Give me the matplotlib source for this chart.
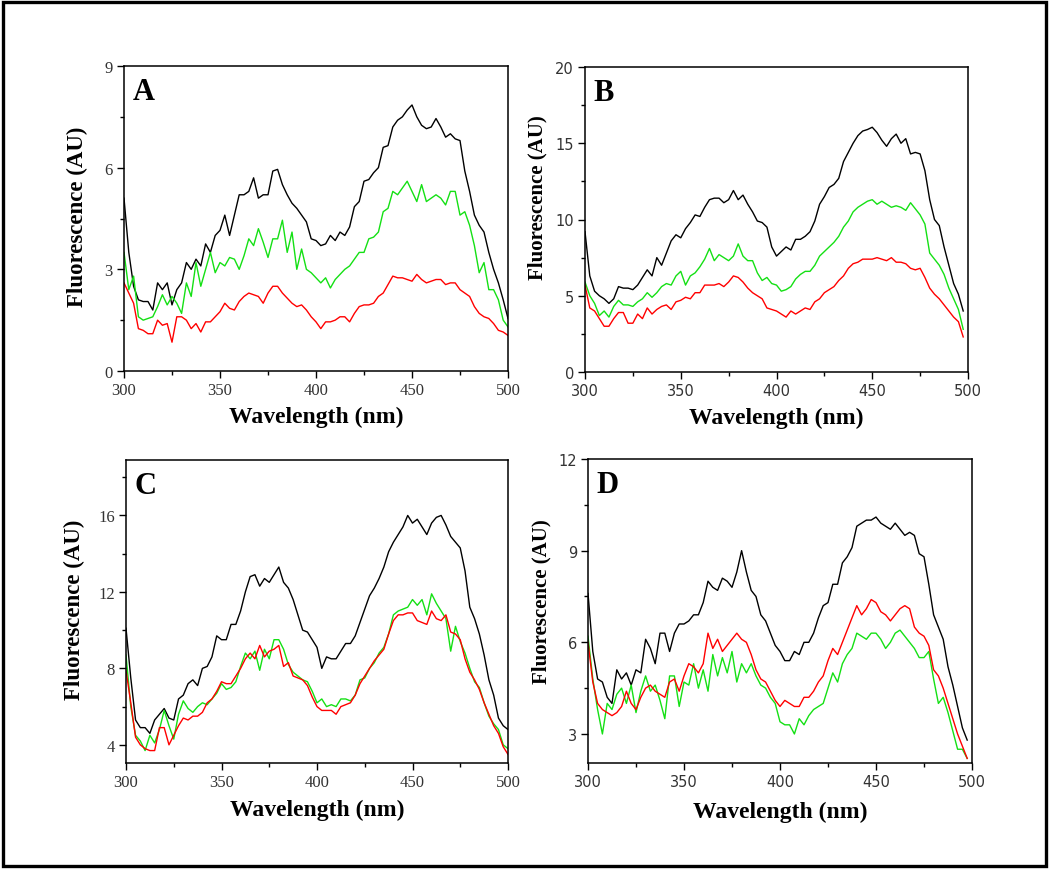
import numpy as np
import matplotlib.pyplot as plt
from matplotlib.patches import Rectangle
from matplotlib.ticker import MultipleLocator

# wavelength grids (nm)
wl_full = np.arange(300, 500.1, 2.5)     # panels A, C
wl_short = np.arange(300, 497.6, 2.5)    # panels B, D

# ---- panel A ----
a_black = [5.1, 3.5, 2.5, 2.1, 2.05, 2.05, 1.8, 2.6, 2.4, 2.6,
           1.95, 2.4, 2.6, 3.2, 3.0, 3.3, 3.1, 3.75, 3.5, 4.0,
           4.15, 4.6, 4.0, 4.6, 5.2, 5.2, 5.3, 5.7, 5.1, 5.2,
           5.2, 5.9, 5.95, 5.5, 5.2, 4.95, 4.8, 4.6, 4.4, 3.9,
           3.85, 3.7, 3.75, 4.0, 3.85, 4.1, 4.0, 4.25, 4.85, 5.0,
           5.6, 5.65, 5.85, 6.0, 6.6, 6.65, 7.2, 7.4, 7.5, 7.7,
           7.85, 7.5, 7.25, 7.15, 7.2, 7.45, 7.2, 6.9, 7.0, 6.85,
           6.8, 5.9, 5.3, 4.6, 4.3, 4.1, 3.5, 3.0, 2.6, 2.1,
           1.55]
a_green = [3.5, 2.4, 2.8, 1.6, 1.5, 1.55, 1.6, 1.9, 2.25, 1.95,
           2.2, 2.0, 1.7, 2.6, 2.2, 3.2, 2.5, 3.0, 3.5, 2.9,
           3.2, 3.1, 3.35, 3.3, 3.0, 3.4, 3.9, 3.7, 4.2, 3.8,
           3.35, 3.9, 3.9, 4.45, 3.5, 4.1, 3.0, 3.6, 3.0, 2.9,
           2.75, 2.6, 2.75, 2.45, 2.7, 2.85, 3.0, 3.1, 3.3, 3.5,
           3.5, 3.9, 3.95, 4.1, 4.7, 4.8, 5.3, 5.2, 5.4, 5.6,
           5.3, 5.0, 5.5, 5.0, 5.1, 5.2, 5.1, 4.9, 5.3, 5.3,
           4.6, 4.7, 4.3, 3.7, 2.9, 3.2, 2.4, 2.4, 2.1, 1.5,
           1.3]
a_red = [2.6, 2.3, 2.0, 1.25, 1.2, 1.1, 1.1, 1.5, 1.35, 1.4,
         0.85, 1.6, 1.6, 1.5, 1.25, 1.4, 1.15, 1.45, 1.45, 1.6,
         1.75, 2.0, 1.85, 1.8, 2.05, 2.2, 2.3, 2.25, 2.2, 2.0,
         2.3, 2.5, 2.5, 2.3, 2.15, 2.0, 1.9, 1.95, 1.8, 1.6,
         1.45, 1.25, 1.45, 1.45, 1.5, 1.6, 1.6, 1.45, 1.7, 1.9,
         1.95, 1.95, 2.0, 2.2, 2.3, 2.55, 2.8, 2.75, 2.75, 2.7,
         2.65, 2.85, 2.7, 2.6, 2.65, 2.7, 2.7, 2.55, 2.6, 2.6,
         2.4, 2.3, 2.2, 1.9, 1.7, 1.6, 1.55, 1.4, 1.2, 1.15,
         1.05]

# ---- panel B ----
b_black = [9.2, 6.3, 5.3, 5.0, 4.8, 4.5, 4.8, 5.6, 5.5, 5.5,
           5.4, 5.7, 6.2, 6.7, 6.3, 7.5, 7.0, 7.8, 8.6, 9.0,
           8.8, 9.4, 9.8, 10.3, 10.2, 10.8, 11.3, 11.4, 11.4, 11.1,
           11.3, 11.9, 11.3, 11.6, 11.0, 10.5, 9.9, 9.8, 9.5, 8.2,
           7.6, 7.9, 8.2, 8.0, 8.7, 8.7, 8.9, 9.2, 9.9, 11.0,
           11.5, 12.1, 12.3, 12.7, 13.8, 14.4, 15.0, 15.5, 15.8, 15.9,
           16.05, 15.7, 15.2, 14.8, 15.3, 15.6, 15.0, 15.3, 14.3, 14.4,
           14.3, 13.2, 11.3, 10.0, 9.6, 8.2, 7.0, 5.8, 5.1, 4.0]
b_green = [5.9, 5.0, 4.5, 3.7, 4.0, 3.6, 4.3, 4.7, 4.4, 4.4,
           4.3, 4.6, 4.8, 5.2, 4.9, 5.2, 5.6, 5.8, 5.7, 6.3,
           6.6, 5.7, 6.3, 6.5, 6.9, 7.4, 8.1, 7.3, 7.7, 7.5,
           7.3, 7.6, 8.4, 7.6, 7.3, 7.3, 6.5, 6.0, 6.2, 5.8,
           5.7, 5.3, 5.4, 5.6, 6.1, 6.4, 6.6, 6.6, 7.0, 7.6,
           7.9, 8.2, 8.5, 8.9, 9.5, 9.9, 10.5, 10.8, 11.0, 11.2,
           11.3, 11.0, 11.2, 11.0, 10.8, 10.9, 10.8, 10.6, 11.1, 10.7,
           10.3, 9.7, 7.8, 7.4, 7.0, 6.4, 5.5, 4.8, 4.1, 2.8]
b_red = [5.7, 4.2, 4.0, 3.5, 3.0, 3.0, 3.5, 3.9, 3.9, 3.2,
         3.2, 3.8, 3.5, 4.2, 3.8, 4.1, 4.3, 4.4, 4.1, 4.6,
         4.7, 4.9, 4.8, 5.2, 5.2, 5.7, 5.7, 5.7, 5.8, 5.6,
         5.9, 6.3, 6.2, 5.9, 5.5, 5.2, 5.0, 4.8, 4.2, 4.1,
         4.0, 3.8, 3.6, 4.0, 3.8, 4.0, 4.2, 4.1, 4.6, 4.8,
         5.2, 5.4, 5.6, 6.0, 6.3, 6.8, 7.1, 7.2, 7.4, 7.4,
         7.4, 7.5, 7.4, 7.3, 7.5, 7.2, 7.2, 7.1, 6.8, 6.7,
         6.8, 6.2, 5.5, 5.1, 4.8, 4.4, 4.0, 3.6, 3.3, 2.3]

# ---- panel C ----
c_black = [10.1, 7.5, 5.3, 4.9, 4.9, 4.6, 5.3, 5.6, 5.9, 5.4,
           5.3, 6.4, 6.6, 7.2, 7.4, 7.1, 8.0, 8.1, 8.6, 9.7,
           9.5, 9.5, 10.3, 10.3, 11.0, 12.0, 12.8, 12.9, 12.3, 12.7,
           12.5, 12.9, 13.3, 12.5, 12.2, 11.6, 10.8, 10.0, 9.9, 9.5,
           9.1, 8.0, 8.6, 8.5, 8.5, 8.9, 9.3, 9.3, 9.7, 10.4,
           11.1, 11.8, 12.2, 12.7, 13.3, 14.1, 14.6, 15.0, 15.4, 16.0,
           15.6, 15.8, 15.4, 15.0, 15.6, 15.9, 16.0, 15.5, 14.9, 14.6,
           14.3, 13.1, 11.2, 10.6, 9.8, 8.7, 7.4, 6.6, 5.4, 5.0,
           4.8]
c_green = [8.7, 6.0, 4.5, 4.2, 3.7, 4.5, 4.1, 4.8, 5.8, 5.0,
           4.3, 5.6, 6.3, 5.9, 5.7, 6.0, 6.2, 6.1, 6.4, 6.7,
           7.2, 6.9, 7.0, 7.3, 8.1, 8.8, 8.5, 8.9, 7.9, 9.0,
           8.5, 9.5, 9.5, 9.0, 8.2, 7.8, 7.6, 7.4, 7.3, 6.8,
           6.2, 6.4, 6.0, 6.1, 6.0, 6.4, 6.4, 6.3, 6.6, 7.4,
           7.5, 8.0, 8.3, 8.8, 9.1, 9.8, 10.8, 11.0, 11.1, 11.2,
           11.6, 11.3, 11.6, 10.8, 11.9, 11.4, 11.0, 10.6, 8.9, 10.2,
           9.4, 8.8, 8.0, 7.3, 7.0, 6.2, 5.5, 5.1, 4.8, 4.0,
           3.8]
c_red = [7.9, 6.2, 4.4, 4.0, 3.8, 3.7, 3.7, 4.9, 4.9, 4.0,
         4.5, 5.0, 5.4, 5.3, 5.5, 5.5, 5.7, 6.2, 6.4, 6.8,
         7.3, 7.2, 7.2, 7.6, 8.0, 8.5, 8.8, 8.5, 9.2, 8.6,
         8.9, 9.0, 9.2, 8.1, 8.3, 7.6, 7.5, 7.4, 7.1, 6.5,
         6.0, 5.8, 5.8, 5.8, 5.6, 6.0, 6.1, 6.2, 6.6, 7.2,
         7.6, 8.0, 8.4, 8.7, 9.0, 9.8, 10.5, 10.8, 10.8, 10.9,
         10.9, 10.5, 10.4, 10.3, 11.0, 10.6, 10.5, 10.8, 9.9, 9.8,
         9.5, 8.5, 7.8, 7.4, 6.9, 6.2, 5.6, 5.0, 4.6, 3.9,
         3.5]

# ---- panel D ----
d_black = [7.6, 5.7, 4.8, 4.7, 4.2, 4.0, 5.1, 4.8, 5.0, 4.6,
           5.1, 5.0, 6.1, 5.8, 5.3, 6.3, 6.3, 5.7, 6.3, 6.6,
           6.6, 6.7, 6.9, 6.9, 7.3, 8.0, 7.8, 7.7, 8.1, 8.0,
           7.8, 8.3, 9.0, 8.3, 7.7, 7.5, 6.9, 6.7, 6.3, 5.9,
           5.7, 5.4, 5.4, 5.7, 5.6, 6.0, 6.0, 6.3, 6.8, 7.2,
           7.3, 7.9, 7.9, 8.6, 8.8, 9.1, 9.8, 9.9, 10.0, 10.0,
           10.1, 9.9, 9.8, 9.7, 9.9, 9.7, 9.5, 9.6, 9.5, 8.9,
           8.8, 7.9, 6.9, 6.5, 6.1, 5.2, 4.6, 3.9, 3.2, 2.8]
d_red = [6.0, 4.7, 4.0, 3.8, 3.7, 3.6, 3.7, 3.9, 4.4, 4.0,
         3.8, 4.2, 4.5, 4.6, 4.4, 4.3, 4.2, 4.7, 4.8, 4.4,
         4.9, 5.3, 5.2, 5.0, 5.3, 6.3, 5.8, 6.1, 5.7, 5.9,
         6.1, 6.3, 6.1, 6.0, 5.6, 5.1, 4.8, 4.7, 4.4, 4.1,
         3.9, 4.1, 4.0, 3.9, 3.9, 4.2, 4.2, 4.4, 4.7, 4.9,
         5.4, 5.8, 5.6, 6.0, 6.4, 6.8, 7.2, 6.9, 7.1, 7.4,
         7.3, 7.0, 6.9, 6.7, 6.9, 7.1, 7.2, 7.1, 6.5, 6.3,
         6.2, 5.9, 5.1, 4.9, 4.5, 4.0, 3.5, 3.0, 2.6, 2.2]
d_green = [6.2, 4.8, 3.8, 3.0, 4.0, 3.8, 4.3, 4.5, 4.0, 4.6,
           3.7, 4.4, 4.9, 4.4, 4.6, 4.1, 3.5, 4.9, 4.9, 3.9,
           4.7, 4.6, 5.3, 4.5, 5.1, 4.4, 5.6, 4.9, 5.5, 5.0,
           5.7, 4.7, 5.3, 5.0, 5.3, 4.9, 4.6, 4.5, 4.2, 4.0,
           3.4, 3.3, 3.3, 3.0, 3.5, 3.3, 3.6, 3.8, 3.9, 4.0,
           4.5, 5.0, 4.7, 5.3, 5.6, 5.8, 6.3, 6.2, 6.1, 6.3,
           6.3, 6.1, 5.8, 6.0, 6.3, 6.4, 6.2, 6.0, 5.8, 5.5,
           5.5, 5.7, 4.8, 4.0, 4.2, 3.7, 3.1, 2.5, 2.5, 2.2]

panels = [
    # label, x, black, green, red, ylim, major, minor, tick font
    ("A", wl_full, a_black, a_green, a_red, (0, 9), 3, 1.5, "serif"),
    ("B", wl_short, b_black, b_green, b_red, (0, 20), 5, 2.5, "sans"),
    ("C", wl_full, c_black, c_green, c_red, (3.05, 18.9), 4, 2, "serif"),
    ("D", wl_short, d_black, d_green, d_red, (2.05, 12), 3, 1.5, "sans"),
]
rects = [
    [124/1050, 1-372/870, 384/1050, 305/870],
    [585/1050, 1-373/870, 383/1050, 305/870],
    [126/1050, 1-764/870, 382/1050, 303/870],
    [588/1050, 1-764/870, 384/1050, 304/870],
]
# label centres in axes coords and y-label size
ylab_pos = [(-0.12, 0.51, 16.5), (-0.123, 0.574, 15), (-0.134, 0.51, 16.5), (-0.122, 0.533, 15)]
xlab_pos = [-0.148, -0.148, -0.152, -0.158]

GREEN = "#14e014"
SERIF = "Liberation Serif"
SANS = "DejaVu Sans"

fig = plt.figure(figsize=(10.5, 8.7), dpi=100)

for (lab, x, blk, grn, red, ylim, maj, mnr, tf), r, (yx, yy, ys), xy in zip(panels, rects, ylab_pos, xlab_pos):
    ax = fig.add_axes(r)
    ax.plot(x, blk, color="black", lw=1.0)
    ax.plot(x, grn, color=GREEN, lw=1.0)
    ax.plot(x, red, color="red", lw=1.0)
    ax.set_xlim(300, 500)
    ax.set_ylim(*ylim)
    ax.xaxis.set_major_locator(MultipleLocator(50))
    ax.xaxis.set_minor_locator(MultipleLocator(25))
    ax.yaxis.set_major_locator(MultipleLocator(maj))
    ax.yaxis.set_minor_locator(MultipleLocator(mnr))
    ax.tick_params(which="both", direction="out", top=False, right=False,
                   colors="black", labelcolor="#333333")
    ax.tick_params(which="major", length=5, width=1.0, pad=3)
    ax.tick_params(which="minor", length=3, width=1.0)
    for s in ax.spines.values():
        s.set_linewidth(1.1)
    if tf == "serif":
        for t in ax.get_xticklabels() + ax.get_yticklabels():
            t.set_fontfamily(SERIF)
            t.set_fontsize(12)
    else:
        for t in ax.get_xticklabels() + ax.get_yticklabels():
            t.set_fontfamily(SANS)
            t.set_fontsize(10.5)
    ax.set_xlabel("Wavelength (nm)", fontfamily=SERIF, fontweight="bold", fontsize=17, va="center")
    ax.xaxis.set_label_coords(0.5, xy)
    ax.set_ylabel("Fluorescence (AU)", fontfamily=SERIF, fontweight="bold", fontsize=ys, va="center")
    ax.yaxis.set_label_coords(yx, yy)
    ax.text(0.022, 0.965, lab, transform=ax.transAxes, ha="left", va="top",
            fontfamily=SERIF, fontweight="bold", fontsize=22)

fig.patches.append(Rectangle((0.003, 0.004), 0.993, 0.992, transform=fig.transFigure,
                             fill=False, edgecolor="black", linewidth=2.4))

fig.savefig("out.png", dpi=100)
